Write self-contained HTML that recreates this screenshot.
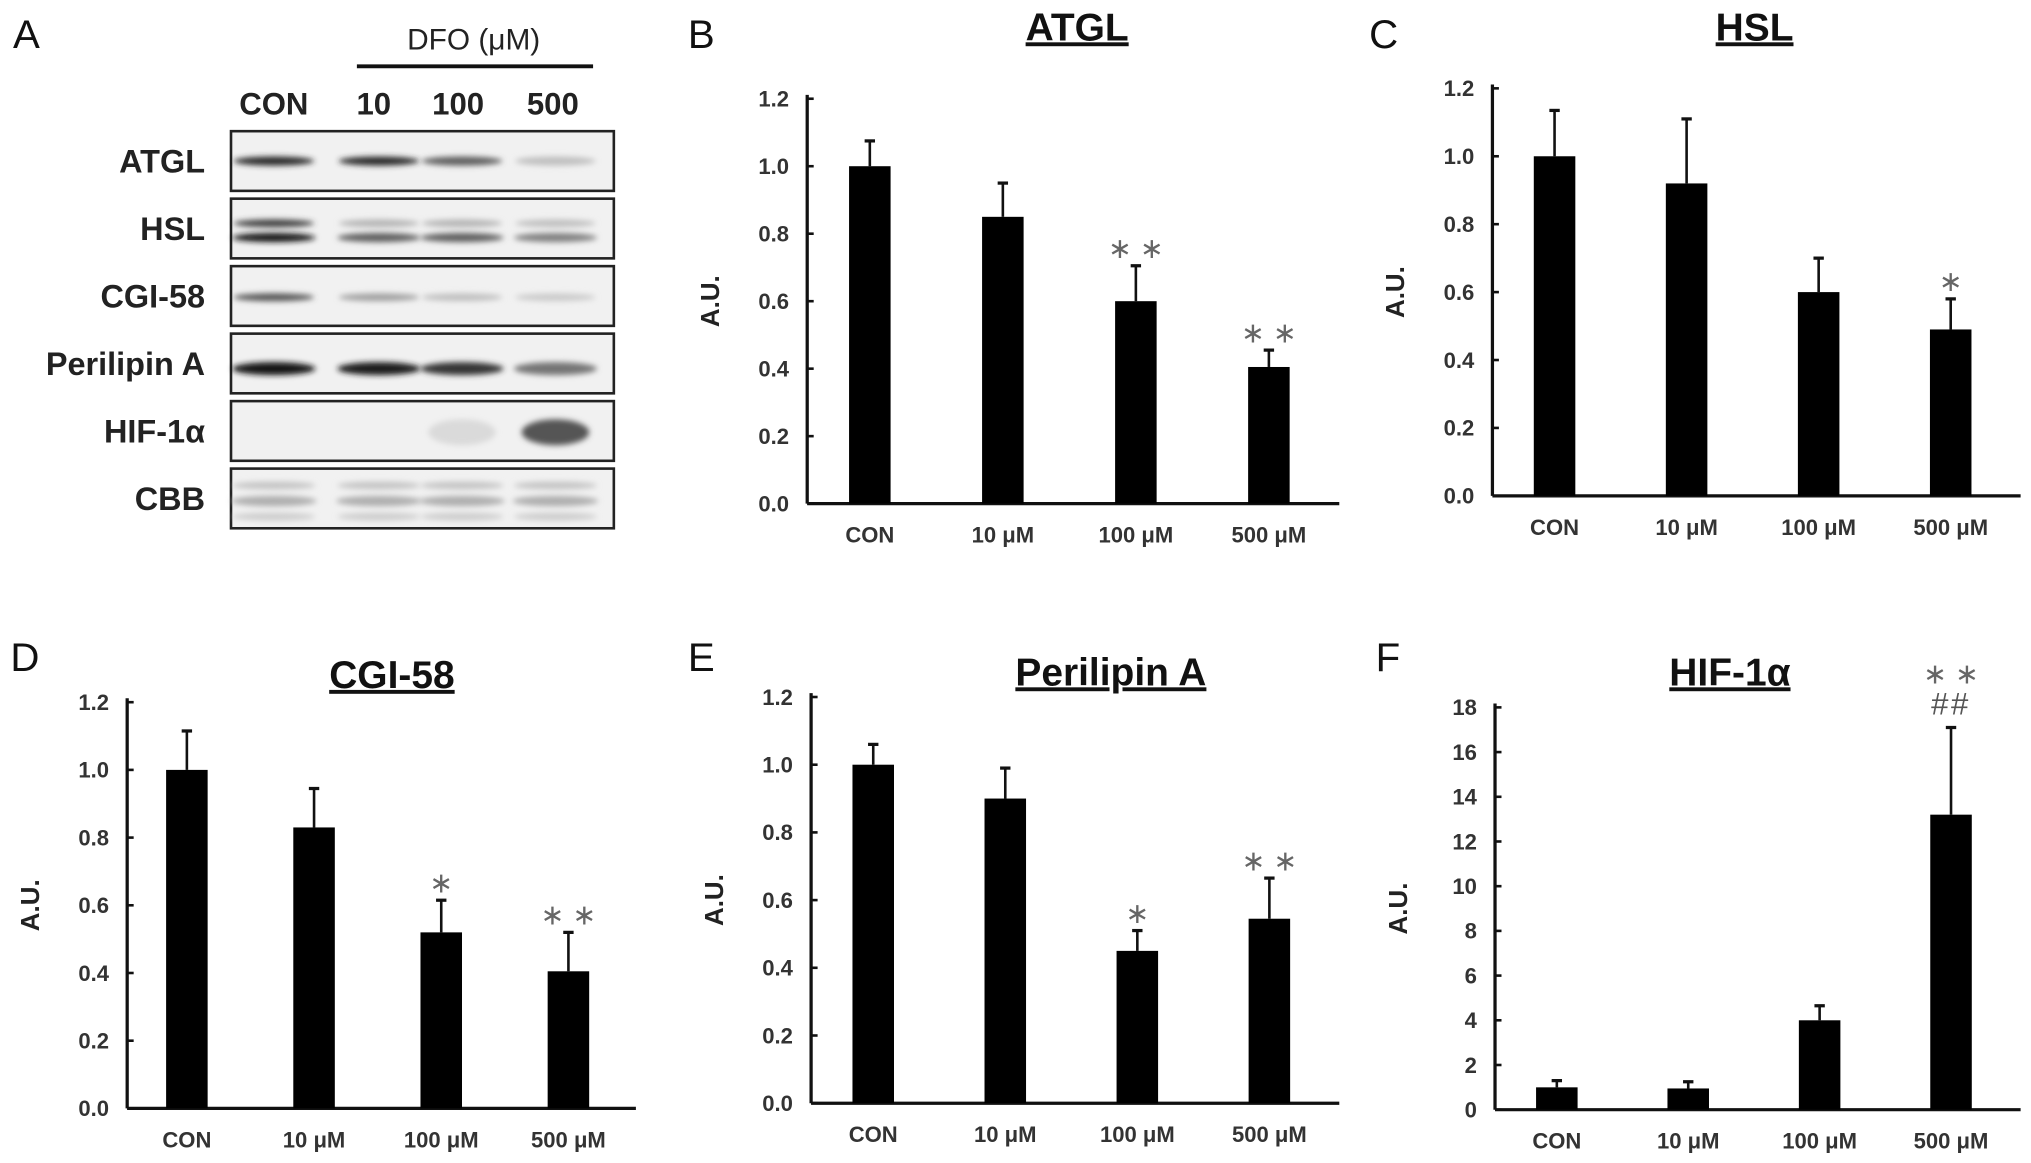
<!DOCTYPE html>
<html><head><meta charset="utf-8"><style>
html,body{margin:0;padding:0;background:#fff;}
svg{display:block;font-family:"Liberation Sans",Arial,sans-serif;}
</style></head><body>
<svg id="fig" width="2031" height="1163" viewBox="0 0 1565 896" xmlns="http://www.w3.org/2000/svg">
<defs>
<filter id="blur" x="-20%" y="-100%" width="140%" height="300%"><feGaussianBlur stdDeviation="2.2"/></filter>
</defs>
<g id="panelA">
<text x="10" y="37" font-size="31" fill="#111">A</text>
<text x="365" y="38" font-size="23" text-anchor="middle" fill="#222">DFO (μM)</text>
<line x1="275" y1="51" x2="457" y2="51" stroke="#111" stroke-width="3"/>
</g>
<g id="charts"></g>
</svg>
<script>
const lanes = ["CON", "10", "100", "500"];
const blotRows = ["ATGL", "HSL", "CGI-58", "Perilipin A", "HIF-1α", "CBB"];
const categories = ["CON", "10 μM", "100 μM", "500 μM"];
const atglMeans = [1.0, 0.85, 0.6, 0.405];
const atglErrs = [0.075, 0.1, 0.105, 0.05];
const atglSig = ["", "", "* *", "* *"];
const hslMeans = [1.0, 0.92, 0.6, 0.49];
const hslErrs = [0.135, 0.19, 0.1, 0.09];
const hslSig = ["", "", "", "*"];
const cgiMeans = [1.0, 0.83, 0.52, 0.405];
const cgiErrs = [0.115, 0.115, 0.095, 0.115];
const cgiSig = ["", "", "*", "* *"];
const pliMeans = [1.0, 0.9, 0.45, 0.545];
const pliErrs = [0.06, 0.09, 0.06, 0.12];
const pliSig = ["", "", "*", "* *"];
const hifMeans = [1.0, 0.95, 4.0, 13.2];
const hifErrs = [0.3, 0.3, 0.65, 3.9];
const hifSig = ["", "", "", "* *"];
const hifSig2 = ["", "", "", "##"];
const ticks12 = [0, 0.2, 0.4, 0.6, 0.8, 1.0, 1.2];
const ticks18 = [0, 2, 4, 6, 8, 10, 12, 14, 16, 18];
const atglBands = [0.9, 0.9, 0.65, 0.2];
const hslBandsUpper = [0.8, 0.25, 0.25, 0.2];
const hslBandsLower = [1.0, 0.65, 0.65, 0.5];
const cgiBands = [0.7, 0.35, 0.2, 0.15];
const pliBands = [1.0, 0.95, 0.85, 0.55];
const hifBands = [0.0, 0.0, 0.08, 0.7];

const NS = "http://www.w3.org/2000/svg";
const panelA = document.getElementById('panelA');
const charts = document.getElementById('charts');
function mk(tag, attrs, parent, text) {
  const e = document.createElementNS(NS, tag);
  for (const k in attrs) e.setAttribute(k, attrs[k]);
  if (text !== undefined) e.textContent = text;
  parent.appendChild(e);
  return e;
}
const laneX = [211, 288, 353, 426];
lanes.forEach((l, i) => {
  const t = mk('text', {x: laneX[i], y: 88, 'font-size': 24, 'text-anchor': 'middle', fill: '#222', 'font-weight': 'bold'}, panelA, l);
  
  
});
const rowTop = [101, 153, 205, 257, 309, 361];
const bandLaneX = [211, 292, 356, 428];
function band(g, cx, cy, w, h, dark) {
  if (dark <= 0) return;
  const c = Math.round(235 - dark * 215);
  const e = mk('ellipse', {cx: cx, cy: cy, rx: w / 2, ry: h / 2, fill: `rgb(${c},${c},${c})`, filter: 'url(#blur)'}, g);
  
  
}
blotRows.forEach((r, ri) => {
  const y = rowTop[ri];
  const g = mk('g', {}, panelA);
  
  
  const lab = mk('text', {x: 158, y: y + 32, 'font-size': 25, 'text-anchor': 'end', fill: '#222', 'font-weight': 'bold'}, g, r);
  
  
  const box = mk('rect', {x: 178, y: y, width: 295, height: 46, fill: '#f1f1f1', stroke: '#222', 'stroke-width': 2}, g);
  
  
  for (let i = 0; i < 4; i++) {
    const cx = bandLaneX[i];
    if (r === 'ATGL') band(g, cx, y + 23, 62, 7, atglBands[i]);
    if (r === 'HSL') { band(g, cx, y + 19, 62, 6, hslBandsUpper[i]); band(g, cx, y + 30, 64, 7, hslBandsLower[i]); }
    if (r === 'CGI-58') band(g, cx, y + 24, 62, 6, cgiBands[i]);
    if (r === 'Perilipin A') band(g, cx, y + 27, 64, 10, pliBands[i]);
    if (r === 'HIF-1α') { band(g, cx, y + 24, 52, 20, hifBands[i]); }
    if (r === 'CBB') { band(g, cx, y + 13, 64, 6, 0.18); band(g, cx, y + 25, 66, 8, 0.28); band(g, cx, y + 37, 64, 6, 0.14); }
  }
});
function chart(o) {
  const g = mk('g', {}, charts);
  
  
  const ymax = o.ticks[o.ticks.length - 1];
  const yS = v => o.y0 - (v / ymax) * (o.y0 - o.yTop);
  const lab = mk('text', {x: o.lx, y: o.ly, 'font-size': 31, fill: '#111'}, g, o.letter);
  
  
  const tt = mk('text', {x: o.tx, y: o.ty, 'font-size': 30, 'text-anchor': 'middle', fill: '#111', 'font-weight': 'bold', 'text-decoration': 'underline'}, g, o.title);
  
  
  const ay = mk('text', {x: 0, y: 0, 'font-size': 20, 'text-anchor': 'middle', fill: '#222', 'font-weight': 'bold', transform: `translate(${o.ax - 68},${(o.y0 + o.yTop) / 2}) rotate(-90)`}, g, 'A.U.');
  
  
  const yl = mk('line', {x1: o.ax, y1: o.yTop - 3, x2: o.ax, y2: o.y0, stroke: '#111', 'stroke-width': 2.5}, g);
  
  
  const xl = mk('line', {x1: o.ax, y1: o.y0, x2: o.xEnd, y2: o.y0, stroke: '#111', 'stroke-width': 2.5}, g);
  
  
  o.ticks.forEach(t => {
    const y = yS(t);
    const tk = mk('line', {x1: o.ax, y1: y, x2: o.ax + 5, y2: y, stroke: '#111', 'stroke-width': 2}, g);
    
    
    const tl = mk('text', {x: o.ax - 14, y: y + 6, 'font-size': 17, 'text-anchor': 'end', fill: '#333', 'font-weight': 'bold'}, g, o.fmt(t));
    
    
  });
  const step = (o.xEnd - o.ax) / 4;
  o.means.forEach((m, i) => {
    const cx = o.ax + step * (i + 0.5) - 3;
    const top = yS(m), etop = yS(m + o.errs[i]);
    const e = mk('line', {x1: cx, y1: top, x2: cx, y2: etop, stroke: '#111', 'stroke-width': 2}, g);
    
    
    const cap = mk('line', {x1: cx - 4, y1: etop, x2: cx + 4, y2: etop, stroke: '#111', 'stroke-width': 2.5}, g);
    
    
    const b = mk('rect', {x: cx - 16, y: top, width: 32, height: o.y0 - top, fill: '#000'}, g);
    
    
    const xlab = mk('text', {x: cx, y: o.y0 + 30, 'font-size': 17, 'text-anchor': 'middle', fill: '#333', 'font-weight': 'bold'}, g, categories[i]);
    
    
    let sy = etop - 12;
    if (o.sig2 && o.sig2[i]) {
      const s2 = mk('text', {x: cx, y: etop - 10, 'font-size': 24, 'text-anchor': 'middle', fill: '#555', 'letter-spacing': '2'}, g, o.sig2[i]);
      
      
      sy = etop - 40;
    }
    if (o.sig[i]) {
      const s = mk('text', {x: cx, y: sy + 6, 'font-size': 22, 'text-anchor': 'middle', fill: '#666'}, g, o.sig[i].replace(/\*/g, '∗'));
      
      
    }
  });
}
const f1 = t => t.toFixed(1), f0 = t => String(t);
chart({name: 'atgl-chart', letter: 'B', lx: 530, ly: 37, title: 'ATGL', tx: 830, ty: 31, ax: 622, yTop: 76, y0: 388, xEnd: 1032, ticks: ticks12, fmt: f1, means: atglMeans, errs: atglErrs, sig: atglSig});
chart({name: 'hsl-chart', letter: 'C', lx: 1055, ly: 37, title: 'HSL', tx: 1352, ty: 31, ax: 1150, yTop: 68, y0: 382, xEnd: 1557, ticks: ticks12, fmt: f1, means: hslMeans, errs: hslErrs, sig: hslSig});
chart({name: 'cgi58-chart', letter: 'D', lx: 8, ly: 517, title: 'CGI-58', tx: 302, ty: 530, ax: 98, yTop: 541, y0: 854, xEnd: 490, ticks: ticks12, fmt: f1, means: cgiMeans, errs: cgiErrs, sig: cgiSig});
chart({name: 'perilipin-a-chart', letter: 'E', lx: 530, ly: 517, title: 'Perilipin A', tx: 856, ty: 528, ax: 625, yTop: 537, y0: 850, xEnd: 1032, ticks: ticks12, fmt: f1, means: pliMeans, errs: pliErrs, sig: pliSig});
chart({name: 'hif-1a-chart', letter: 'F', lx: 1060, ly: 517, title: 'HIF-1α', tx: 1333, ty: 528, ax: 1152, yTop: 545, y0: 855, xEnd: 1557, ticks: ticks18, fmt: f0, means: hifMeans, errs: hifErrs, sig: hifSig, sig2: hifSig2});
</script>
</body></html>
